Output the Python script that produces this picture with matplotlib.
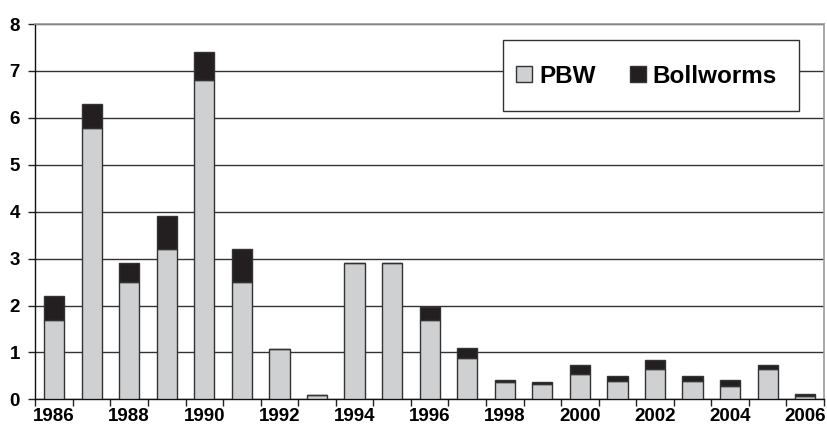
import matplotlib.pyplot as plt
from matplotlib.patches import Rectangle
import numpy as np

years = list(range(1986, 2007))
pbw = [1.7, 5.78, 2.5, 3.2, 6.8, 2.5, 1.08, 0.1, 2.9, 2.9, 1.7,
       0.885, 0.37, 0.33, 0.54, 0.40, 0.645, 0.40, 0.29, 0.645, 0.065]
bollworms = [0.51, 0.51, 0.4, 0.71, 0.6, 0.71, 0.0, 0.0, 0.0, 0.0, 0.26,
             0.2, 0.05, 0.05, 0.2, 0.09, 0.195, 0.09, 0.13, 0.095, 0.04]

plt.rcParams['font.family'] = ['Liberation Sans', 'DejaVu Sans']
plt.rcParams['font.weight'] = 'bold'

fig = plt.figure(figsize=(8.27, 4.29), dpi=100)
ax = fig.add_axes([0.0427, 0.069, 0.9537, 0.875])

x = np.arange(len(years))
w = 0.54
ax.bar(x, pbw, w, color='#cfd0d2', edgecolor='#333333', linewidth=1, label='PBW', zorder=3)
ax.bar(x, bollworms, w, bottom=pbw, color='#231f20', edgecolor='#333333', linewidth=1,
       label='Bollworms', zorder=3)

ax.set_xlim(-0.5, len(years) - 0.5)
ax.set_ylim(0, 8)
ax.set_yticks(range(0, 9))
ax.yaxis.grid(True, color='#333333', linewidth=1, zorder=0)

ax.set_xticks(x[::2])
ax.set_xticklabels([str(y) for y in years[::2]])
ax.set_xticks(np.arange(-0.5, len(years)), minor=True)
ax.tick_params(axis='x', which='major', length=0, labelsize=13.5, pad=6)
ax.tick_params(axis='x', which='minor', length=5, width=1, color='#222222', direction='out')
ax.tick_params(axis='y', length=5, width=1, labelsize=13.5, pad=6, color='#222222')

for side in ['top', 'right']:
    ax.spines[side].set_color('#999999')
    ax.spines[side].set_linewidth(1.2)
for side in ['left', 'bottom']:
    ax.spines[side].set_color('#111111')
    ax.spines[side].set_linewidth(1)

# legend box drawn separately so the padding can be wider vertically
box = Rectangle((0.593, 0.768), 0.3753, 0.189, transform=ax.transAxes,
                facecolor='white', edgecolor='#333333', linewidth=1, zorder=4)
ax.add_patch(box)
leg = ax.legend(loc='center left', bbox_to_anchor=(0.6095, 0.861), borderaxespad=0,
                borderpad=0, ncol=2, fontsize=17.5, frameon=False,
                handlelength=0.66, handleheight=0.66, handletextpad=0.29,
                columnspacing=1.4)
leg.set_zorder(5)

plt.savefig('out.png')
